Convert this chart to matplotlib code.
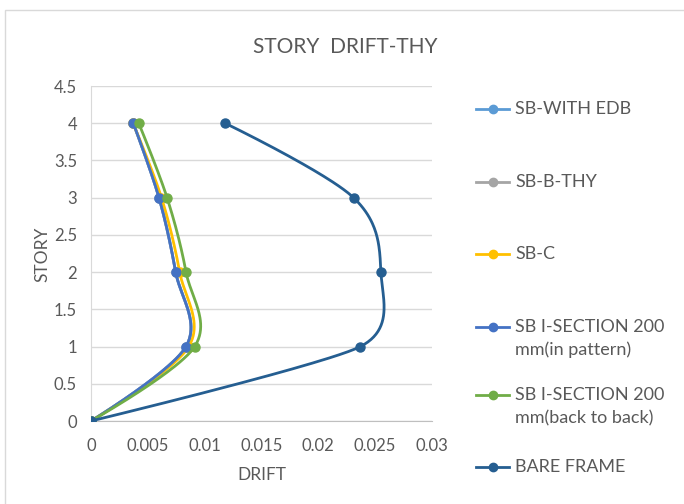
import numpy as np
import matplotlib
matplotlib.use("Agg")
import matplotlib.pyplot as plt
from matplotlib.lines import Line2D
from matplotlib.patches import Rectangle

plt.rcParams['font.family'] = ['Lato', 'DejaVu Sans']

stories = [0, 1, 2, 3, 4]
series_names = ["SB-WITH EDB", "SB-B-THY", "SB-C",
                "SB I-SECTION 200\nmm(in pattern)",
                "SB I-SECTION 200\nmm(back to back)", "BARE FRAME"]
sb_with_edb = [0, 0.00836, 0.00745, 0.00598, 0.00372]
sb_b_thy = [0, 0.00836, 0.00745, 0.00598, 0.00372]
sb_c = [0, 0.0086, 0.0078, 0.0062, 0.0037]
sb_i_pattern = [0, 0.00836, 0.00745, 0.00598, 0.00372]
sb_i_back = [0, 0.00912, 0.00836, 0.00669, 0.0042]
bare_frame = [0, 0.0237, 0.0255, 0.0231, 0.0118]
series_values = [sb_with_edb, sb_b_thy, sb_c, sb_i_pattern, sb_i_back, bare_frame]
colors = ["#5B9BD5", "#A5A5A5", "#FFC000", "#4472C4", "#70AD47", "#255E91"]
x_ticks = [0, 0.005, 0.01, 0.015, 0.02, 0.025, 0.03]
x_tick_labels = ["0", "0.005", "0.01", "0.015", "0.02", "0.025", "0.03"]
y_ticks = [0, 0.5, 1, 1.5, 2, 2.5, 3, 3.5, 4, 4.5]
y_tick_labels = ["0", "0.5", "1", "1.5", "2", "2.5", "3", "3.5", "4", "4.5"]


def smooth_display(ax, xs, ys, n=50):
    """Excel-like smoothed Bezier computed in display space, returned in data space."""
    P = ax.transData.transform(np.column_stack([xs, ys]).astype(float))
    m = len(P)
    ctrl_out = [None] * m
    ctrl_in = [None] * m
    for i in range(m):
        if i == 0 or i == m - 1:
            ctrl_out[i] = P[i]
            ctrl_in[i] = P[i]
            continue
        tan = P[i + 1] - P[i - 1]
        d02 = np.hypot(*tan)
        d01 = np.hypot(*(P[i] - P[i - 1]))
        d12 = np.hypot(*(P[i + 1] - P[i]))
        if d02 == 0:
            ctrl_out[i] = P[i]
            ctrl_in[i] = P[i]
            continue
        off = min(d02 / 6.0, min(d01, d12) / 2.0)
        u = tan / d02
        ctrl_out[i] = P[i] + u * off
        ctrl_in[i] = P[i] - u * off
    out = []
    t = np.linspace(0, 1, n)[:, None]
    for i in range(m - 1):
        p1, p2 = P[i], P[i + 1]
        c1, c2 = ctrl_out[i], ctrl_in[i + 1]
        seg = ((1 - t) ** 3) * p1 + 3 * ((1 - t) ** 2) * t * c1 + 3 * (1 - t) * t ** 2 * c2 + t ** 3 * p2
        out.append(seg if i == 0 else seg[1:])
    arr = ax.transData.inverted().transform(np.vstack(out))
    return arr[:, 0], arr[:, 1]


W, H = 684, 504
fig = plt.figure(figsize=(W / 100, H / 100), dpi=100)
ax = fig.add_axes([91 / W, 1 - 421 / H, (432 - 91) / W, (421 - 86) / H])
ax.set_xlim(0, 0.03)
ax.set_ylim(0, 4.5)

for i, (vals, c) in enumerate(zip(series_values, colors)):
    sx, sy = smooth_display(ax, vals, stories)
    ax.plot(sx, sy, color=c, lw=2.0, solid_capstyle='round', zorder=3 + i)
    ax.plot(vals, stories, 'o', color=c, ms=6.5, zorder=3 + i)

ax.set_xticks(x_ticks)
ax.set_xticklabels(x_tick_labels)
ax.set_yticks(y_ticks)
ax.set_yticklabels(y_tick_labels)
ax.tick_params(length=0, labelsize=12, colors="#595959", pad=10)
ax.tick_params(axis='x', pad=12)
ax.grid(axis='y', color="#D9D9D9", lw=1)
ax.set_axisbelow(True)
for s in ['top', 'right']:
    ax.spines[s].set_visible(False)
ax.spines['left'].set_color("#D9D9D9")
ax.spines['bottom'].set_color("#BFBFBF")
ax.spines['bottom'].set_zorder(2)

fig.text(262 / W, 1 - 475 / H, "DRIFT", ha='center', va='center', fontsize=12.5, color="#595959")
fig.text(42 / W, 1 - 254 / H, "STORY", ha='center', va='center', rotation=90, fontsize=12.5, color="#595959")
fig.text(345 / W, 1 - 47 / H, "STORY  DRIFT-THY", ha='center', va='center', fontsize=15, color="#595959")

# legend
leg_y = [109, 182, 254, 327, 395, 467]
for name, c, yy in zip(series_names, colors, leg_y):
    fy = 1 - yy / H
    fig.add_artist(Line2D([476 / W, 509 / W], [fy, fy], color=c, lw=2.0,
                          transform=fig.transFigure))
    fig.add_artist(Line2D([492.5 / W], [fy], color=c, marker='o', ms=6,
                          transform=fig.transFigure))
    for k, ln in enumerate(name.split('\n')):
        fig.text(515 / W, 1 - (yy + 23 * k) / H, ln, ha='left', va='center',
                 fontsize=13, color="#595959")

fig.add_artist(Rectangle((5 / W, -0.01), 1.0, 1 - 10 / H + 0.01, transform=fig.transFigure,
                         fill=False, edgecolor="#D9D9D9", lw=1))

fig.savefig("out.png", dpi=100)
